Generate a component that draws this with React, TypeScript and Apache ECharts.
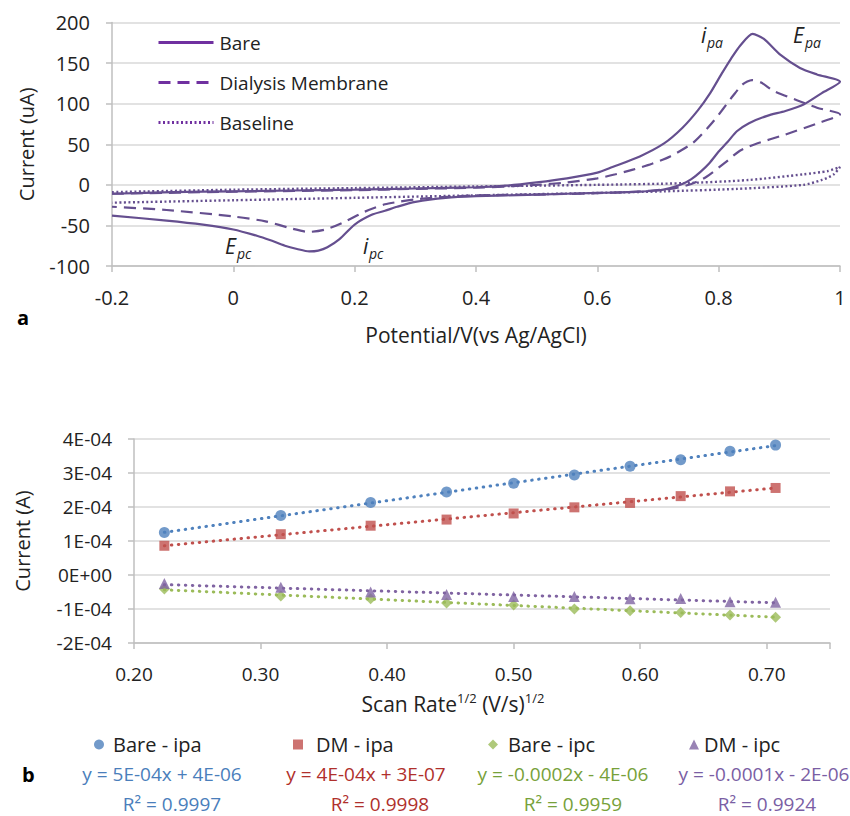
import React, { useEffect, useRef } from "react";
import * as echarts from "echarts";

// ---------- Panel a: cyclic voltammograms (Potential V vs Ag/AgCl, current uA)
const bareCV: [number, number][] = [
  [-0.2, -11], [-0.1, -9], [0, -8], [0.1, -7], [0.2, -6], [0.3, -4.5], [0.4, -3], [0.45, -1],
  [0.5, 3], [0.55, 8], [0.6, 15], [0.625, 22], [0.67, 35], [0.71, 51], [0.74, 70], [0.766, 92],
  [0.786, 113], [0.805, 137], [0.82, 155], [0.836, 172], [0.856, 186], [0.874, 180], [0.902, 160],
  [0.934, 144], [0.962, 136], [1.0, 127],
  [0.97, 113], [0.94, 99], [0.91, 91], [0.88, 85], [0.85, 76], [0.83, 66], [0.815, 53], [0.8, 41],
  [0.785, 27], [0.77, 16], [0.755, 7], [0.74, 1], [0.72, -4], [0.7, -7], [0.65, -9], [0.6, -10],
  [0.5, -12], [0.4, -14], [0.35, -16], [0.3, -21], [0.27, -27], [0.25, -32], [0.228, -37],
  [0.2, -49], [0.175, -67], [0.155, -77], [0.14, -81], [0.125, -82], [0.105, -79], [0.085, -75],
  [0.06, -68], [0.04, -63], [0, -55], [-0.05, -49], [-0.11, -44], [-0.2, -38],
];

const dmCV: [number, number][] = [
  [-0.2, -11], [0, -8.5], [0.2, -6.5], [0.3, -5], [0.4, -3.5], [0.45, -2], [0.5, 0], [0.55, 3],
  [0.6, 8], [0.63, 13], [0.66, 19], [0.69, 26], [0.72, 35], [0.758, 52], [0.79, 77], [0.824, 110],
  [0.84, 124], [0.855, 129], [0.87, 126], [0.89, 116], [0.93, 104], [0.962, 95], [1.0, 87],
  [0.96, 75], [0.91, 62], [0.86, 50], [0.835, 42], [0.81, 27], [0.78, 10], [0.755, 1], [0.72, -5],
  [0.65, -9], [0.5, -12], [0.4, -13], [0.33, -16], [0.3, -18], [0.272, -21], [0.25, -24],
  [0.217, -33], [0.185, -45], [0.152, -55], [0.124, -58], [0.097, -54], [0.053, -45], [0, -39],
  [-0.11, -31], [-0.2, -27],
];

const baselineCV: [number, number][] = [
  [-0.2, -9], [0, -6], [0.2, -4], [0.4, -2], [0.6, 0], [0.74, 2], [0.85, 6], [0.94, 13],
  [0.98, 17], [1.0, 22],
  [0.99, 13], [0.97, 6], [0.94, 0], [0.83, -5], [0.71, -8], [0.6, -10], [0.4, -13], [0.2, -16],
  [0, -19], [-0.2, -22],
];

const cvNames = ["Bare", "Dialysis Membrane", "Baseline"];

// ---------- Panel b: peak currents vs square root of scan rate
const scanRateSqrt = [0.224, 0.316, 0.387, 0.447, 0.5, 0.548, 0.592, 0.632, 0.671, 0.707];
const bareIpa = [1.25e-4, 1.75e-4, 2.13e-4, 2.44e-4, 2.7e-4, 2.94e-4, 3.2e-4, 3.39e-4, 3.64e-4, 3.82e-4];
const dmIpa = [0.86e-4, 1.2e-4, 1.45e-4, 1.63e-4, 1.81e-4, 1.99e-4, 2.12e-4, 2.32e-4, 2.46e-4, 2.56e-4];
const bareIpc = [-0.41e-4, -0.62e-4, -0.7e-4, -0.82e-4, -0.88e-4, -1.0e-4, -1.05e-4, -1.1e-4, -1.18e-4, -1.24e-4];
const dmIpc = [-0.25e-4, -0.36e-4, -0.5e-4, -0.57e-4, -0.63e-4, -0.63e-4, -0.7e-4, -0.69e-4, -0.79e-4, -0.8e-4];

const peakNames = ["Bare - ipa", "DM - ipa", "Bare - ipc", "DM - ipc"];
const equations = ["y = 5E-04x + 4E-06", "y = 4E-04x + 3E-07", "y = -0.0002x - 4E-06", "y = -0.0001x - 2E-06"];
const rSquared = ["R² = 0.9997", "R² = 0.9998", "R² = 0.9959", "R² = 0.9924"];

const FONT = "'Open Sans', sans-serif";
const TEXT = "#222222";
const GRID = "#d9d9d9";
const AXIS = "#bfbfbf";
const CV_COLOR = "#654f8f";
const LEGEND_PURPLE = "#7030a0";
const markerColors = ["#4f81bd", "#c0504d", "#9bbb59", "#8064a2"];
const eqColors = ["#4a7ebb", "#b0302c", "#77a13a", "#7a5ea4"];
const markerSymbols = ["circle", "rect", "diamond", "triangle"];
const markerSizes = [11, 10, 11, 11];

function trendLine(xs: number[], ys: number[]): [number, number][] {
  const n = xs.length;
  const mx = xs.reduce((a, b) => a + b, 0) / n;
  const my = ys.reduce((a, b) => a + b, 0) / n;
  let sxy = 0;
  let sxx = 0;
  for (let i = 0; i < n; i++) {
    sxy += (xs[i] - mx) * (ys[i] - my);
    sxx += (xs[i] - mx) * (xs[i] - mx);
  }
  const b = sxy / sxx;
  const a = my - b * mx;
  return [
    [xs[0], a + b * xs[0]],
    [xs[n - 1], a + b * xs[n - 1]],
  ];
}

function txt(text: string, x: number, y: number, opts: any = {}) {
  const align = opts.align || "left";
  const fontSize = opts.fontSize || 20;
  return {
    type: "text",
    silent: true,
    style: {
      text,
      x,
      y,
      fill: opts.fill || TEXT,
      fontSize,
      fontFamily: FONT,
      fontStyle: opts.fontStyle || "normal",
      fontWeight: opts.fontWeight || "normal",
      lineHeight: opts.lineHeight || fontSize,
      align,
      textAlign: align,
      verticalAlign: "middle",
      textVerticalAlign: "middle",
      rich: opts.rich,
    },
  };
}

export default function App() {
  const ref = useRef<HTMLDivElement>(null);

  useEffect(() => {
    if (!ref.current) return;
    const chart = echarts.init(ref.current, undefined, { renderer: "svg" });

    const peakSeries = [bareIpa, dmIpa, bareIpc, dmIpc];

    const axisCommon = {
      axisLine: { show: true, onZero: false, lineStyle: { color: AXIS, width: 1.5 } },
      axisTick: { show: true, length: 6, lineStyle: { color: AXIS, width: 1.5 } },
    };

    const option: any = {
      animation: false,
      backgroundColor: "#ffffff",
      grid: [
        { left: 112, top: 22.5, width: 728, height: 243.5 },
        { left: 134, top: 439, width: 696, height: 204 },
      ],
      xAxis: [
        {
          gridIndex: 0,
          type: "value",
          min: -0.2,
          max: 1,
          interval: 0.2,
          ...axisCommon,
          splitLine: { show: false },
          axisLabel: {
            margin: 21,
            fontSize: 20,
            color: TEXT,
            fontFamily: FONT,
            formatter: (v: number) => String(Math.round(v * 10) / 10),
          },
          name: "Potential/V(vs Ag/AgCl)",
          nameLocation: "middle",
          nameGap: 58,
          nameTextStyle: { fontSize: 21, color: TEXT, fontFamily: FONT },
        },
        {
          gridIndex: 1,
          type: "value",
          min: 0.2,
          max: 0.75,
          interval: 0.1,
          ...axisCommon,
          splitLine: { show: false },
          axisLabel: {
            margin: 21,
            fontSize: 19,
            color: TEXT,
            fontFamily: FONT,
            formatter: (v: number) => (Math.abs(v - 0.75) < 1e-9 ? "" : v.toFixed(2)),
          },
        },
      ],
      yAxis: [
        {
          gridIndex: 0,
          type: "value",
          min: -100,
          max: 200,
          interval: 50,
          ...axisCommon,
          splitLine: { show: true, lineStyle: { color: GRID, width: 1.5 } },
          axisLabel: { margin: 22, fontSize: 20, color: TEXT, fontFamily: FONT },
          name: "Current (uA)",
          nameLocation: "middle",
          nameGap: 76,
          nameTextStyle: { fontSize: 20, color: TEXT, fontFamily: FONT },
        },
        {
          gridIndex: 1,
          type: "value",
          min: -2e-4,
          max: 4e-4,
          interval: 1e-4,
          ...axisCommon,
          splitLine: { show: true, lineStyle: { color: GRID, width: 1.5 } },
          axisLabel: {
            margin: 22,
            fontSize: 19,
            color: TEXT,
            fontFamily: FONT,
            formatter: (v: number) => {
              const n = Math.round(v * 1e4);
              return n === 0 ? "0E+00" : `${n}E-04`;
            },
          },
          name: "Current (A)",
          nameLocation: "middle",
          nameGap: 102,
          nameTextStyle: { fontSize: 20, color: TEXT, fontFamily: FONT },
        },
      ],
      legend: [
        {
          orient: "vertical",
          left: 152,
          top: 28,
          itemWidth: 55,
          itemHeight: 14,
          itemGap: 21,
          textStyle: { fontSize: 19, color: TEXT, fontFamily: FONT, padding: [0, 0, 0, 1] },
          data: cvNames.map((name) => ({
            name,
            lineStyle: { color: LEGEND_PURPLE, width: 3 },
            itemStyle: { color: "rgba(0,0,0,0)", borderColor: "rgba(0,0,0,0)", borderWidth: 0, opacity: 0 },
          })),
        },
        ...peakNames.map((name, i) => ({
          orient: "horizontal",
          left: [89, 288, 483, 684][i],
          top: 729.5,
          itemWidth: 10,
          itemHeight: 10,
          textStyle: {
            fontSize: 20,
            color: TEXT,
            fontFamily: FONT,
            padding: [0, 0, 0, [4, 8, 5, 0][i]],
          },
          data: [name],
        })),
      ],
      series: [
        ...[bareCV, dmCV, baselineCV].map((data, i) => ({
          type: "line",
          name: cvNames[i],
          xAxisIndex: 0,
          yAxisIndex: 0,
          data,
          symbol: "none",
          showSymbol: false,
          smooth: 0.25,
          itemStyle: { color: CV_COLOR },
          lineStyle: {
            color: CV_COLOR,
            width: i === 2 ? 2.4 : 2.2,
            type: i === 0 ? "solid" : i === 1 ? [12, 7] : [2, 2.5],
          },
        })),
        ...peakSeries.map((ys, i) => ({
          type: "scatter",
          name: peakNames[i],
          xAxisIndex: 1,
          yAxisIndex: 1,
          data: scanRateSqrt.map((x, j) => [x, ys[j]]),
          symbol: markerSymbols[i],
          symbolSize: markerSizes[i],
          itemStyle: { color: markerColors[i] },
          z: 3,
        })),
        ...peakSeries.map((ys, i) => ({
          type: "line",
          name: `trend ${peakNames[i]}`,
          xAxisIndex: 1,
          yAxisIndex: 1,
          data: trendLine(scanRateSqrt, ys),
          symbol: "none",
          showSymbol: false,
          lineStyle: { color: markerColors[i], width: 3, type: [0.5, 6.5], cap: "round" },
          z: 4,
        })),
      ],
      graphic: [
        txt("a", 17, 317, { fontWeight: "bold", fill: "#000" }),
        txt("b", 22, 774, { fontWeight: "bold", fill: "#000" }),
        // peak annotations
        txt("i", 701, 35, { fontStyle: "italic", fontSize: 21 }),
        txt("pa", 707, 42.5, { fontStyle: "italic", fontSize: 14 }),
        txt("E", 793, 35, { fontStyle: "italic", fontSize: 21 }),
        txt("pa", 805, 42.5, { fontStyle: "italic", fontSize: 14 }),
        txt("E", 225, 246, { fontStyle: "italic", fontSize: 21 }),
        txt("pc", 237, 253, { fontStyle: "italic", fontSize: 14 }),
        txt("i", 363, 246, { fontStyle: "italic", fontSize: 21 }),
        txt("pc", 369, 253, { fontStyle: "italic", fontSize: 14 }),
        // x axis title of panel b
        txt("{a|Scan Rate}{s|1/2}{a| (V/s)}{s|1/2}", 453, 703.5, {
          align: "center",
          fontSize: 21,
          lineHeight: 24,
          rich: {
            a: { fontSize: 21, fontFamily: FONT, fill: TEXT, color: TEXT, lineHeight: 24 },
            s: { fontSize: 13, fontFamily: FONT, fill: TEXT, color: TEXT, verticalAlign: "top", lineHeight: 14 },
          },
        }),
        // trendline equations
        ...equations.map((t, i) =>
          txt(t, [162, 366, 563, 764][i], 774, { align: "center", fontSize: 19, fill: eqColors[i] })
        ),
        ...rSquared.map((t, i) =>
          txt(t, [172, 380, 573, 767][i], 804, { align: "center", fontSize: 19, fill: eqColors[i] })
        ),
      ],
    };

    chart.setOption(option);
    return () => chart.dispose();
  }, []);

  return (
    <div
      ref={ref}
      style={{ position: "absolute", left: 0, top: 0, width: 850, height: 816, background: "#fff" }}
    />
  );
}
